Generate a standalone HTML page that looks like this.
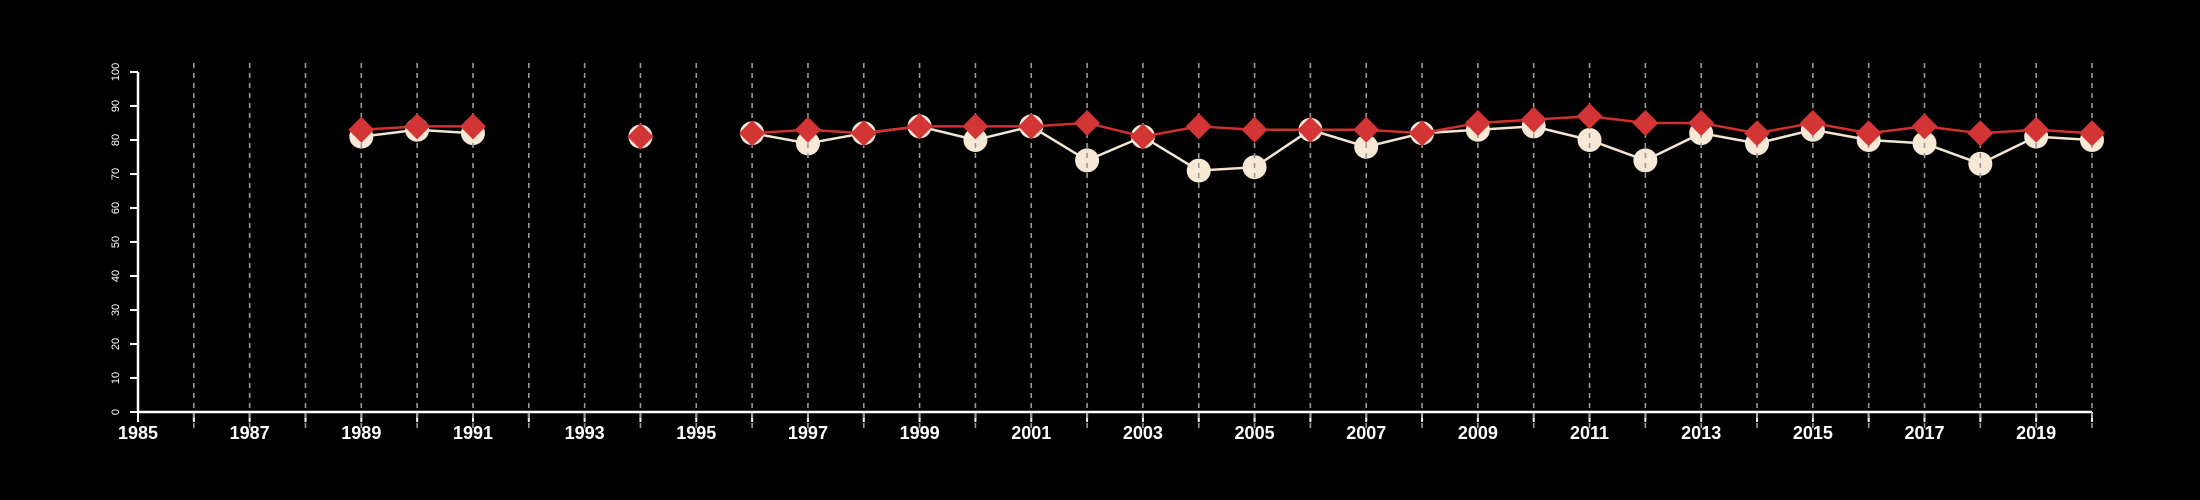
<!DOCTYPE html>
<html><head><meta charset="utf-8"><style>
html,body{margin:0;padding:0;background:#000;}
svg{display:block;}
</style></head><body>
<svg id="chart" width="2200" height="500" xmlns="http://www.w3.org/2000/svg">
<rect width="2200" height="500" fill="#000"/>
</svg>
<script>
const years = [1989,1990,1991,1994,1996,1997,1998,1999,2000,2001,2002,2003,2004,2005,2006,2007,2008,2009,2010,2011,2012,2013,2014,2015,2016,2017,2018,2019,2020];
const redValues = [83,84,84,81,82,83,82,84,84,84,85,81,84,83,83,83,82,85,86,87,85,85,82,85,82,84,82,83,82];
const creamValues = [81,83,82,81,82,79,82,84,80,84,74,81,71,72,83,78,82,83,84,80,74,82,79,83,80,79,73,81,80];
const yTicks = [0,10,20,30,40,50,60,70,80,90,100];
const xLabelYears = [1985,1987,1989,1991,1993,1995,1997,1999,2001,2003,2005,2007,2009,2011,2013,2015,2017,2019];

const NS='http://www.w3.org/2000/svg';
const svg=document.getElementById('chart');
const x0=138,x1=2092,y0=412,y1=72,minY=1985,maxY=2020;
const xs=v=>x0+(v-minY)/(maxY-minY)*(x1-x0);
const ys=v=>y0-(v/100)*(y0-y1);
function mk(tag,attrs,parent){const e=document.createElementNS(NS,tag);for(const k in attrs)e.setAttribute(k,attrs[k]);(parent||svg).appendChild(e);return e;}

// axes
const ax=mk('g',{});


mk('line',{x1:x0,y1:y0,x2:x1,y2:y0,stroke:'#fff','stroke-width':2.5},ax);
mk('line',{x1:x0,y1:y0,x2:x0,y2:y1,stroke:'#fff','stroke-width':2.5},ax);
yTicks.forEach(t=>{
  mk('line',{x1:x0-8,y1:ys(t),x2:x0,y2:ys(t),stroke:'#fff','stroke-width':2},ax);
  const tx=mk('text',{x:0,y:0,fill:'#fff','font-family':'Liberation Sans, sans-serif','font-size':11,'text-anchor':'middle',transform:`translate(119,${ys(t)}) rotate(-90)`},ax);
  
  
  tx.textContent=t;
});
for(let yr=minY;yr<=maxY;yr++){
  mk('line',{x1:xs(yr),y1:y0,x2:xs(yr),y2:y0+10,stroke:'#fff','stroke-width':2},ax);
}
xLabelYears.forEach(yr=>{
  const tx=mk('text',{x:xs(yr),y:439,fill:'#fff','font-family':'Liberation Sans, sans-serif','font-size':18,'font-weight':'bold','text-anchor':'middle'},ax);
  
  
  tx.textContent=yr;
});

function segments(vals){
  const segs=[];let cur=[];
  years.forEach((yr,i)=>{
    if(i>0 && yr-years[i-1]>1){segs.push(cur);cur=[];}
    cur.push([xs(yr),ys(vals[i])]);
  });
  segs.push(cur);return segs;
}
// cream series
segments(creamValues).forEach(s=>{
  const p=mk('polyline',{points:s.map(q=>q.join(',')).join(' '),fill:'none',stroke:'#f5e6d3','stroke-width':2.5});
  
  
});
years.forEach((yr,i)=>{
  const c=mk('circle',{cx:xs(yr),cy:ys(creamValues[i]),r:12,fill:'#f8e9d6'});
  
  
});
// grid lines
for(let yr=minY+1;yr<=maxY;yr++){
  const g=mk('line',{x1:xs(yr),y1:63,x2:xs(yr),y2:428,stroke:'#999','stroke-width':1.6,'stroke-dasharray':'5,5'});
  
  
}
// red series
segments(redValues).forEach(s=>{
  const p=mk('polyline',{points:s.map(q=>q.join(',')).join(' '),fill:'none',stroke:'#d03030','stroke-width':2.5});
  
  
});
years.forEach((yr,i)=>{
  const cx=xs(yr),cy=ys(redValues[i]),d=13;
  const p=mk('polygon',{points:`${cx},${cy-d} ${cx+d},${cy} ${cx},${cy+d} ${cx-d},${cy}`,fill:'#d33535'});
  
  
});
</script>
</body></html>
